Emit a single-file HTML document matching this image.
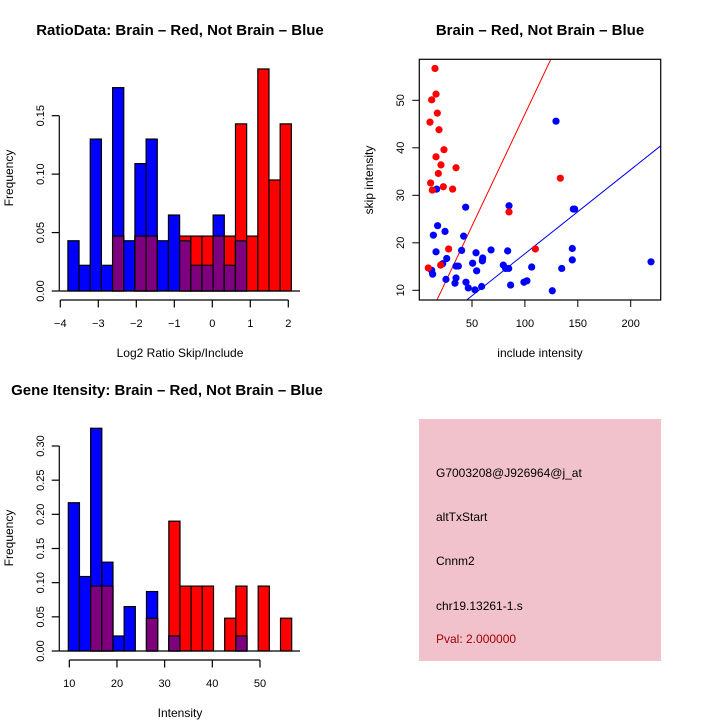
<!DOCTYPE html>
<html><head><meta charset="utf-8"><style>
body{margin:0;background:#fff;}
svg{display:block;font-family:"Liberation Sans",sans-serif;}
</style></head><body>
<svg id="c" width="720" height="720" viewBox="0 0 720 720">
<rect width="720" height="720" fill="#fff"/>
<text x="180" y="35" text-anchor="middle" font-size="15" font-weight="bold">RatioData: Brain – Red, Not Brain – Blue</text>
<text x="540" y="35" text-anchor="middle" font-size="15" font-weight="bold">Brain – Red, Not Brain – Blue</text>
<text x="167" y="395" text-anchor="middle" font-size="15" font-weight="bold">Gene Itensity: Brain – Red, Not Brain – Blue</text>
<text x="180" y="357" text-anchor="middle" font-size="12">Log2 Ratio Skip/Include</text>
<text transform="translate(13,178) rotate(-90)" text-anchor="middle" font-size="12">Frequency</text>
<text x="540" y="357" text-anchor="middle" font-size="12">include intensity</text>
<text transform="translate(373,180) rotate(-90)" text-anchor="middle" font-size="12">skip intensity</text>
<text x="180" y="717" text-anchor="middle" font-size="12">Intensity</text>
<text transform="translate(13,538) rotate(-90)" text-anchor="middle" font-size="12">Frequency</text>
<g>
<rect x="419" y="419" width="242" height="242" fill="#f2c2cc"/>
<text x="436" y="477" font-size="12">G7003208@J926964@j_at</text>
<text x="436" y="521" font-size="12">altTxStart</text>
<text x="436" y="565" font-size="12">Cnnm2</text>
<text x="436" y="610" font-size="12">chr19.13261-1.s</text>
<text x="436" y="643" font-size="12" fill="#a00000">Pval: 2.000000</text>
</g>
<g id="g1"></g><g id="g2"></g><g id="g3"></g>
</svg>
<script>
// Ratio histogram data
const ratioBlue=[0.043,0.022,0.130,0.022,0.174,0.043,0.109,0.130,0.043,0.065,0.043,0.022,0.022,0.065,0.022,0.043,0,0,0,0];
const ratioRed=[0,0,0,0,0.047,0,0.047,0.047,0,0,0.047,0.047,0.047,0.047,0.047,0.143,0.047,0.190,0.095,0.143];
const ratioStart=-3.8, ratioBinW=0.294;
const ratioXTicks=[-4,-3,-2,-1,0,1,2];
const ratioYTicks=[0,0.05,0.10,0.15];
const ratioYLabels=["0.00","0.05","0.10","0.15"];
// Intensity histogram data
const intBlue=[0.217,0.109,0.326,0.130,0.022,0.065,0,0.087,0,0.022,0,0,0,0,0,0.022,0,0,0,0];
const intRed=[0,0,0.095,0.095,0,0,0,0.048,0,0.190,0.095,0.095,0.095,0,0.048,0.095,0,0.095,0,0.048];
const intStart=9.79, intBinW=2.343;
const intXTicks=[10,20,30,40,50];
const intYTicks=[0,0.05,0.10,0.15,0.20,0.25,0.30];
const intYLabels=["0.00","0.05","0.10","0.15","0.20","0.25","0.30"];
// Scatter data
const redX=[15.0,16.0,11.9,17.2,10.3,18.8,23.5,16.0,20.7,34.9,18.2,133.5,10.9,22.9,12.5,31.7,85.0,27.9,109.9,20.4,8.7];
const redY=[56.7,51.3,50.1,47.3,45.4,43.8,39.6,38.1,36.4,35.8,34.6,33.6,32.6,31.8,31.1,31.3,26.5,18.7,18.7,15.3,14.7];
const blueX=[129.4,16.6,44.0,85.0,145.8,17.5,24.5,13.5,42.1,16.0,40.2,53.8,68.0,83.7,144.8,60.1,59.8,144.8,219.2,26.1,22.3,50.6,34.9,37.1,79.6,81.8,84.7,106.4,134.8,54.4,11.9,12.8,25.4,34.9,33.9,44.3,86.5,99.1,101.9,46.5,52.8,59.1,125.9,147];
const blueY=[45.6,31.3,27.5,27.8,27.1,23.6,22.4,21.6,21.4,18.1,18.4,17.9,18.5,18.3,18.8,16.8,16.2,16.4,16.0,16.7,15.6,15.7,15.1,15.1,15.3,14.6,14.6,14.9,14.6,14.1,14.2,13.4,12.3,12.6,11.5,11.7,11.1,11.7,12.0,10.5,10.1,10.8,9.9,27.1];
const redSlope=[0.471], blueSlope=[0.177];
const scXTicks=[50,100,150,200];
const scYTicks=[10,20,30,40,50];

const NS="http://www.w3.org/2000/svg";
function el(p,t,a){const e=document.createElementNS(NS,t);for(const k in a)e.setAttribute(k,a[k]);p.appendChild(e);return e;}

function hist(g,blue,red,start,bw,xs,ys,ylab,x0px,xPerU,y0px,yPerU,xAxisY,name){
  const X=v=>x0px+(v-start)*xPerU;
  const Y=v=>y0px-v*yPerU;
  for(let i=0;i<blue.length;i++){
    const xa=X(start+i*bw), xb=X(start+(i+1)*bw);
    const b=blue[i], r=red[i], m=Math.min(b,r);
    if(b>0){const e=el(g,'rect',{x:xa,y:Y(b),width:xb-xa,height:Y(0)-Y(b),fill:'#0000ff',stroke:'#000','stroke-width':1.2});
      
      }
    if(r>0){const e=el(g,'rect',{x:xa,y:Y(r),width:xb-xa,height:Y(0)-Y(r),fill:'#ff0000',stroke:'#000','stroke-width':1.2});
      
      }
    if(m>0){const e=el(g,'rect',{x:xa,y:Y(m),width:xb-xa,height:Y(0)-Y(m),fill:'#7f007f',stroke:'#000','stroke-width':1.2});
      
      }
  }
  el(g,'line',{x1:59.3,x2:300,y1:y0px,y2:y0px,stroke:'#000','stroke-width':1.2});
  el(g,'line',{x1:59.3,x2:59.3,y1:Y(ys[0]),y2:Y(ys[ys.length-1]),stroke:'#000','stroke-width':1.2});
  ys.forEach((v,i)=>{el(g,'line',{x1:51.7,x2:59.3,y1:Y(v),y2:Y(v),stroke:'#000','stroke-width':1.2});
    const t=el(g,'text',{transform:`translate(44,${Y(v)}) rotate(-90)`,'text-anchor':'middle','font-size':11});t.textContent=ylab[i];
    
    });
  el(g,'line',{x1:X(xs[0]),x2:X(xs[xs.length-1]),y1:xAxisY,y2:xAxisY,stroke:'#000','stroke-width':1.2});
  xs.forEach(v=>{el(g,'line',{x1:X(v),x2:X(v),y1:xAxisY,y2:xAxisY+7.5,stroke:'#000','stroke-width':1.2});
    const t=el(g,'text',{x:X(v),y:xAxisY+27,'text-anchor':'middle','font-size':11});t.textContent=(v<0?'\u2212'+(-v):v);
    
    });
}
hist(document.getElementById('g1'),ratioBlue,ratioRed,ratioStart,ratioBinW,ratioXTicks,ratioYTicks,ratioYLabels,
  60.3+(ratioStart+4)*38,38,291,1168.7,300,'ratio');
hist(document.getElementById('g3'),intBlue,intRed,intStart,intBinW,intXTicks,intYTicks,intYLabels,
  69.3+(intStart-10)*4.767,4.767,651,683.3,660,'intensity');

(function(){
  const g=document.getElementById('g2');
  const X=v=>472+(v-50)*1.058, Y=v=>290.3-(v-10)*4.75;
  const L=419.3,R=660.7,T=59.3,B=300;
  const cp=el(g,'clipPath',{id:'cp'});el(cp,'rect',{x:L,y:T,width:R-L,height:B-T});
  const lg=el(g,'g',{'clip-path':'url(#cp)'});
  const x1=0,x2=240;
  let e=el(lg,'line',{x1:X(x1),y1:Y(redSlope[0]*x1),x2:X(x2),y2:Y(redSlope[0]*x2),stroke:'#ff0000','stroke-width':1});
  
  
  e=el(lg,'line',{x1:X(x1),y1:Y(blueSlope[0]*x1),x2:X(x2),y2:Y(blueSlope[0]*x2),stroke:'#0000ff','stroke-width':1});
  
  
  blueX.forEach((v,i)=>{const c=el(lg,'circle',{cx:X(v),cy:Y(blueY[i]),r:3.6,fill:'#0000ff'});
    
    });
  redX.forEach((v,i)=>{const c=el(lg,'circle',{cx:X(v),cy:Y(redY[i]),r:3.6,fill:'#ff0000'});
    
    });
  el(g,'rect',{x:L,y:T,width:R-L,height:B-T,fill:'none',stroke:'#000','stroke-width':1.2});
  scXTicks.forEach(v=>{el(g,'line',{x1:X(v),x2:X(v),y1:B,y2:B+7,stroke:'#000'});
    const t=el(g,'text',{x:X(v),y:B+27,'text-anchor':'middle','font-size':11});t.textContent=v;
    
    });
  scYTicks.forEach(v=>{el(g,'line',{x1:L-7,x2:L,y1:Y(v),y2:Y(v),stroke:'#000'});
    const t=el(g,'text',{transform:`translate(404,${Y(v)}) rotate(-90)`,'text-anchor':'middle','font-size':11});t.textContent=v;
    
    });
})();
</script>
</body></html>
